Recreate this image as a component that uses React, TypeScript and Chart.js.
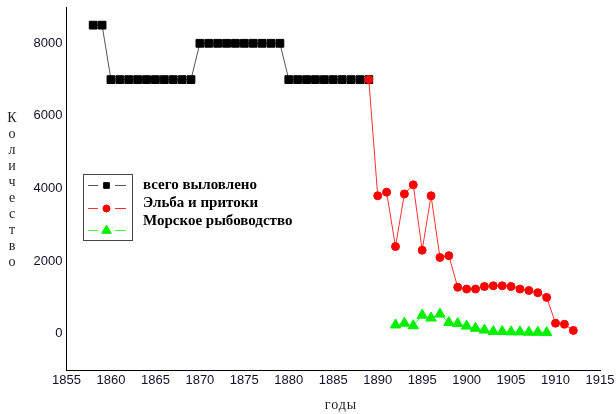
import React, { useEffect, useRef } from 'react';
import { Chart, registerables } from 'chart.js';
import { drawPoint } from 'chart.js/helpers';

Chart.register(...registerables);

const totalYears = [1858, 1859, 1860, 1861, 1862, 1863, 1864, 1865, 1866, 1867, 1868, 1869, 1870, 1871, 1872, 1873, 1874, 1875, 1876, 1877, 1878, 1879, 1880, 1881, 1882, 1883, 1884, 1885, 1886, 1887, 1888, 1889];
const totalValues = [8500, 8500, 7000, 7000, 7000, 7000, 7000, 7000, 7000, 7000, 7000, 7000, 8000, 8000, 8000, 8000, 8000, 8000, 8000, 8000, 8000, 8000, 7000, 7000, 7000, 7000, 7000, 7000, 7000, 7000, 7000, 7000];

const elbeYears = [1889, 1890, 1891, 1892, 1893, 1894, 1895, 1896, 1897, 1898, 1899, 1900, 1901, 1902, 1903, 1904, 1905, 1906, 1907, 1908, 1909, 1910, 1911, 1912];
const elbeValues = [7000, 3800, 3900, 2400, 3850, 4100, 2300, 3800, 2100, 2150, 1280, 1230, 1230, 1300, 1320, 1320, 1300, 1230, 1190, 1130, 1000, 290, 260, 90];

const seaYears = [1892, 1893, 1894, 1895, 1896, 1897, 1898, 1899, 1900, 1901, 1902, 1903, 1904, 1905, 1906, 1907, 1908, 1909];
const seaValues = [240, 290, 220, 510, 430, 540, 310, 280, 210, 150, 100, 60, 60, 50, 50, 40, 40, 30];

const seriesLabels = ['всего выловлено', 'Эльба и притоки', 'Морское рыбоводство'];
const xTicks = [1855, 1860, 1865, 1870, 1875, 1880, 1885, 1890, 1895, 1900, 1905, 1910, 1915];
const yTicks = [0, 2000, 4000, 6000, 8000];
const yTitle = 'Количество';
const xTitle = 'годы';

const toPoints = (xs: number[], ys: number[]) => xs.map((x, i) => ({ x, y: ys[i] }));

const legendPlugin = {
  id: 'boxLegend',
  afterDraw(chart: any) {
    const ctx = chart.ctx as CanvasRenderingContext2D;
    ctx.save();
    ctx.strokeStyle = '#444';
    ctx.lineWidth = 1;
    ctx.strokeRect(83.5, 174.5, 49, 66);
    const sampleY = [185, 208, 230];
    const textY = [185, 203, 221];
    const order = [0, 1, 2];
    order.forEach((idx, r) => {
      const ds = chart.data.datasets.find((d: any) => d.label === seriesLabels[idx]);
      if (!ds) return;
      const y = sampleY[r];
      ctx.strokeStyle = ds.borderColor;
      ctx.lineWidth = 1;
      ctx.beginPath();
      ctx.moveTo(88, y + 0.5);
      ctx.lineTo(98, y + 0.5);
      ctx.moveTo(115, y + 0.5);
      ctx.lineTo(126, y + 0.5);
      ctx.stroke();
      ctx.fillStyle = ds.pointBackgroundColor;
      ctx.strokeStyle = ds.pointBorderColor;
      drawPoint(ctx, { pointStyle: ds.pointStyle, radius: ds.legendRadius, rotation: 0, borderWidth: 1 } as any, 106.5, y + 0.5);
      ctx.fillStyle = '#000';
      ctx.font = 'bold 15px "Liberation Serif"';
      ctx.textBaseline = 'middle';
      ctx.textAlign = 'left';
      ctx.fillText(ds.label, 143, textY[r]);
    });
    // axis titles
    ctx.font = '14px "Liberation Serif"';
    ctx.fillStyle = '#222';
    ctx.textAlign = 'center';
    ctx.textBaseline = 'middle';
    Array.from(yTitle).forEach((ch, i) => {
      ctx.fillText(ch, 12, 118 + i * 16);
    });
    (ctx as any).letterSpacing = '1px';
    ctx.fillText(xTitle, 341, 405);
    ctx.restore();
  },
};

export default function App() {
  const ref = useRef<HTMLCanvasElement | null>(null);
  useEffect(() => {
    if (!ref.current) return;
    const chart = new Chart(ref.current, {
      type: 'line',
      data: {
        datasets: [
          {
            label: seriesLabels[0],
            data: toPoints(totalYears, totalValues),
            borderColor: '#555555',
            borderWidth: 1,
            pointStyle: 'rect',
            pointRadius: 5.5,
            pointBackgroundColor: '#000000',
            pointBorderColor: '#000000',
            pointBorderWidth: 1,
            order: 1,
            legendRadius: 4,
          } as any,
          {
            label: seriesLabels[1],
            data: toPoints(elbeYears, elbeValues),
            borderColor: '#ff3030',
            borderWidth: 1,
            pointStyle: 'circle',
            pointRadius: 4,
            pointBackgroundColor: '#ff0000',
            pointBorderColor: '#ff0000',
            pointBorderWidth: 1,
            order: 0,
            legendRadius: 3.5,
          } as any,
          {
            label: seriesLabels[2],
            data: toPoints(seaYears, seaValues),
            borderColor: '#40ff40',
            borderWidth: 1,
            pointStyle: 'triangle',
            pointRadius: 6,
            pointBackgroundColor: '#00f000',
            pointBorderColor: '#00f000',
            pointBorderWidth: 1,
            order: 2,
            legendRadius: 5.5,
          } as any,
        ],
      },
      options: {
        animation: false,
        responsive: true,
        maintainAspectRatio: false,
        layout: { padding: { top: 5.5, right: 16, bottom: 0, left: 0 } },
        plugins: { legend: { display: false }, tooltip: { enabled: false } },
        scales: {
          x: {
            type: 'linear',
            min: 1855,
            max: 1915,
            grid: { display: false, drawTicks: false },
            border: { display: true, color: '#000', width: 1 },
            afterBuildTicks: (s: any) => { s.ticks = xTicks.map((v) => ({ value: v })); },
            afterFit: (s: any) => { s.height = 44; s.paddingLeft = 0; s.paddingRight = 0; },
            ticks: {
              padding: 3,
              color: '#10102a',
              font: { family: '"Liberation Sans"', size: 13 },
              maxRotation: 0,
              autoSkip: false,
              callback: (v: any) => String(v),
            },
          },
          y: {
            type: 'linear',
            min: -1000,
            max: 9000,
            grid: { display: false, drawTicks: false },
            border: { display: true, color: '#000', width: 1 },
            afterBuildTicks: (s: any) => { s.ticks = yTicks.map((v) => ({ value: v })); },
            afterFit: (s: any) => { s.width = 66.5; s.paddingTop = 0; s.paddingBottom = 0; },
            ticks: {
              padding: 4,
              color: '#10102a',
              font: { family: '"Liberation Sans"', size: 13 },
              callback: (v: any) => String(v),
            },
          },
        },
      } as any,
      plugins: [legendPlugin],
    });
    return () => chart.destroy();
  }, []);
  return (
    <div style={{ position: 'absolute', left: 0, top: 0, width: 616, height: 414 }}>
      <canvas ref={ref} />
    </div>
  );
}
